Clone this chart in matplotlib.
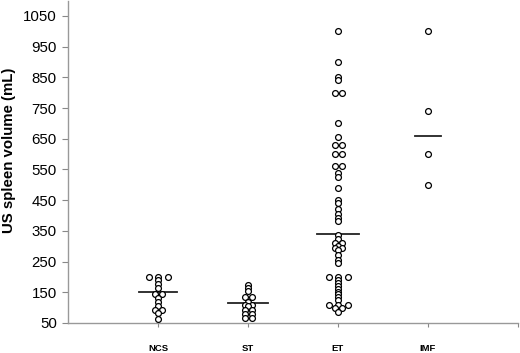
import matplotlib
matplotlib.use("Agg")
import matplotlib.pyplot as plt
import numpy as np

plt.rcParams['font.family'] = ['Liberation Sans', 'DejaVu Sans']

categories = ["NCS", "ST", "ET", "IMF"]

ncs = [200, 200, 200, 190, 176, 165, 145, 145, 130, 120, 104, 92, 92, 82, 63]
st = [175, 165, 155, 135, 135, 118, 110, 110, 104, 92, 92, 79, 79, 65, 65]
et = [1000, 900, 850, 840, 800, 800, 700, 655, 630, 630, 600, 600, 560, 560,
      540, 525, 490, 452, 440, 420, 405, 392, 382, 337, 322, 310, 310, 302,
      295, 295, 287, 270, 256, 244, 200, 200, 200, 190, 180, 170, 161, 152,
      143, 134, 125, 110, 110, 110, 100, 100, 85]
imf = [1000, 740, 600, 500]
series = [ncs, st, et, imf]

medians = [150, 115, 340, 660]

yticks = list(range(50, 1051, 100))

fig = plt.figure(figsize=(5.2, 3.53), dpi=100)
ax = fig.add_axes([68 / 520, 30 / 353, 450 / 520, 322.4 / 353])

px = 1 / 90.0  # one pixel in x data units


def offsets(vals):
    vals = list(vals)
    offs = []
    counts = {}
    for v in vals:
        counts[v] = counts.get(v, 0) + 1
    seen = {}
    for v in vals:
        n = counts[v]
        i = seen.get(v, 0)
        seen[v] = i + 1
        sp = 7 * px if n == 2 else 9.5 * px
        offs.append((i - (n - 1) / 2) * sp)
    return np.array(offs)


half_widths = [19 * px, 20 * px, 21 * px, 13 * px]

for k, vals in enumerate(series):
    xpos = k + 1 + offsets(vals)
    ax.plot(xpos, vals, linestyle='none', marker='o', markersize=4.2,
            markerfacecolor='white', markeredgecolor='black',
            markeredgewidth=0.9, zorder=3)
    ax.plot([k + 1 - half_widths[k], k + 1 + half_widths[k]],
            [medians[k], medians[k]], color='#222222', linewidth=1.3, zorder=2)

ax.set_xlim(0, 5)
ax.set_ylim(50, 1100)
ax.set_yticks(yticks)
ax.set_yticklabels([str(t) for t in yticks], fontsize=10.8)
ax.set_xticks([1, 2, 3, 4, 5])
ax.set_xticklabels(categories + [""], fontsize=6.8, fontweight='bold')
ax.tick_params(axis='x', length=3, width=0.8, color='#888888', pad=12)
ax.tick_params(axis='y', length=4, width=0.8, color='#888888', pad=4)

for s in ['top', 'right']:
    ax.spines[s].set_visible(False)
for s in ['left', 'bottom']:
    ax.spines[s].set_color('#999999')
    ax.spines[s].set_linewidth(1.0)

ax.set_ylabel("US spleen volume (mL)", fontsize=10.8, fontweight='bold')
ax.yaxis.set_label_coords(-0.115, 0.535)

fig.savefig("out.png", dpi=100)
